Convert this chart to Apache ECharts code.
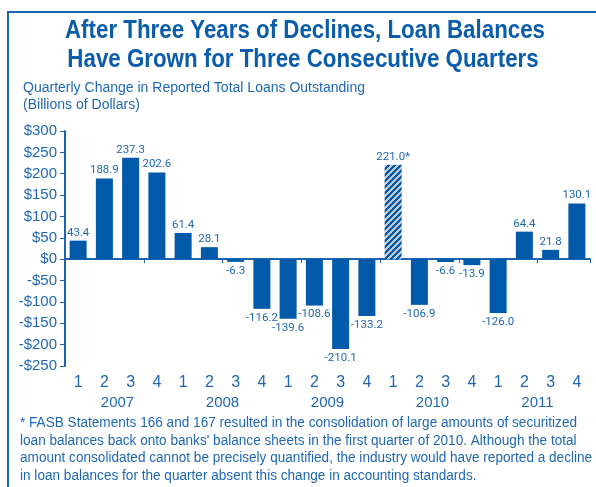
<!DOCTYPE html>
<html>
<head>
<meta charset="utf-8">
<script src="https://cdn.jsdelivr.net/npm/echarts@6/dist/echarts.min.js"></script>
<style>
html,body{margin:0;padding:0;background:#fff;}
#c{width:596px;height:487px;}
</style>
</head>
<body>
<div id="c"></div>
<script>
var quarters = ['2007Q1','2007Q2','2007Q3','2007Q4','2008Q1','2008Q2','2008Q3','2008Q4','2009Q1','2009Q2','2009Q3','2009Q4','2010Q1','2010Q2','2010Q3','2010Q4','2011Q1','2011Q2','2011Q3','2011Q4'];
var quarterLabels = ['1','2','3','4','1','2','3','4','1','2','3','4','1','2','3','4','1','2','3','4'];
var years = ['2007','2008','2009','2010','2011'];
var loanChange = [43.4, 188.9, 237.3, 202.6, 61.4, 28.1, -6.3, -116.2, -139.6, -108.6, -210.1, -133.2, 221.0, -106.9, -6.6, -13.9, -126.0, 64.4, 21.8, 130.1];
var hatchedIndex = 12; // 2010 Q1, FASB 166/167 consolidation
var yTicks = [-250, -200, -150, -100, -50, 0, 50, 100, 150, 200, 250, 300];

var FONT = "'Liberation Sans', Arial, sans-serif";
var LBLFONT = "Roboto, 'Liberation Sans', sans-serif";
var BAR = '#005aa9';
var TXT = '#1f67b2';

// hatch pattern
var pc = document.createElement('canvas');
pc.width = 6; pc.height = 6;
var pctx = pc.getContext('2d');
var img = pctx.createImageData(6, 6);
for (var y = 0; y < 6; y++) {
  for (var x = 0; x < 6; x++) {
    var i = (y * 6 + x) * 4;
    var dark = ((x + y) % 6) < 3;
    if (dark) { img.data[i] = 0x00; img.data[i+1] = 0x5a; img.data[i+2] = 0xa9; }
    else { img.data[i] = 0xbc; img.data[i+1] = 0xca; img.data[i+2] = 0xe2; }
    img.data[i+3] = 255;
  }
}
pctx.putImageData(img, 0, 0);

// measure helper for condensed text
var mc = document.createElement('canvas').getContext('2d');
function fitScale(text, font, target) {
  mc.font = font;
  return target / mc.measureText(text).width;
}

var chart = echarts.init(document.getElementById('c'));

var seriesData = loanChange.map(function (v, idx) {
  var d = {
    value: v,
    label: {
      position: v >= 0 ? 'top' : 'bottom',
      distance: v >= 0 ? 2 : 3,
      formatter: idx === hatchedIndex ? v.toFixed(1) + '*' : v.toFixed(1)
    }
  };
  if (idx === hatchedIndex) {
    d.itemStyle = { color: { image: pc, repeat: 'repeat' } };
  }
  return d;
});

var title1 = 'After Three Years of Declines, Loan Balances';
var title2 = 'Have Grown for Three Consecutive Quarters';
var sub1 = 'Quarterly Change in Reported Total Loans Outstanding';
var sub2 = '(Billions of Dollars)';
var footnote = [
  "* FASB Statements 166 and 167 resulted in the consolidation of large amounts of securitized",
  "loan balances back onto banks' balance sheets in the first quarter of 2010. Although the total",
  "amount consolidated cannot be precisely quantified, the industry would have reported a decline",
  "in loan balances for the quarter absent this change in accounting standards."
];
var footY = [423, 441, 458, 476];

var tFont = 'bold 25px ' + FONT;
var sFont = '14px ' + FONT;
var tScale = fitScale(title1, tFont, 480);
var sScale = fitScale(sub1, sFont, 342);
var fScale = fitScale(footnote[0], sFont, 557);

var graphics = [
  { type: 'line', shape: { x1: 8, y1: 12, x2: 596, y2: 12 }, style: { stroke: '#1a64b0', lineWidth: 2 } },
  { type: 'line', shape: { x1: 8, y1: 11, x2: 8, y2: 487 }, style: { stroke: '#1a64b0', lineWidth: 2 } },
  { type: 'text', x: 305, y: 31, scaleX: tScale, style: { text: title1, font: tFont, fill: '#0b5caa', textAlign: 'center', textVerticalAlign: 'middle' } },
  { type: 'text', x: 303, y: 60, scaleX: tScale, style: { text: title2, font: tFont, fill: '#0b5caa', textAlign: 'center', textVerticalAlign: 'middle' } },
  { type: 'text', x: 23, y: 88, scaleX: sScale, style: { text: sub1, font: sFont, fill: TXT, textAlign: 'left', textVerticalAlign: 'middle' } },
  { type: 'text', x: 23, y: 105, scaleX: sScale, style: { text: sub2, font: sFont, fill: TXT, textAlign: 'left', textVerticalAlign: 'middle' } }
];
footnote.forEach(function (t, k) {
  graphics.push({ type: 'text', x: 20, y: footY[k], scaleX: fScale, style: { text: t, font: sFont, fill: TXT, textAlign: 'left', textVerticalAlign: 'middle' } });
});

chart.setOption({
  animation: false,
  backgroundColor: '#fff',
  grid: { left: 65, right: 6, top: 131, bottom: 121, containLabel: false },
  xAxis: [
    {
      type: 'category', data: quarters, position: 'bottom',
      axisLine: { onZero: true, lineStyle: { color: '#1a64b0', width: 2 } },
      axisTick: { show: true, length: 4, inside: false, lineStyle: { color: '#1a64b0', width: 1 } },
      axisLabel: { show: false }
    },
    {
      type: 'category', data: quarterLabels, position: 'bottom', offset: 0,
      axisLine: { show: false }, axisTick: { show: false },
      axisLabel: { margin: 9, color: TXT, fontFamily: FONT, fontSize: 16, interval: 0 }
    },
    {
      type: 'category', data: years, position: 'bottom', offset: 20,
      axisLine: { show: false }, axisTick: { show: false },
      axisLabel: { margin: 9, color: TXT, fontFamily: FONT, fontSize: 15, interval: 0 }
    }
  ],
  yAxis: {
    type: 'value', min: yTicks[0], max: yTicks[yTicks.length - 1], interval: 50,
    axisLine: { show: true, lineStyle: { color: '#1a64b0', width: 2 } },
    axisTick: { show: true, length: 5, lineStyle: { color: '#1a64b0', width: 1 } },
    splitLine: { show: false },
    axisLabel: {
      margin: 8, color: TXT, fontFamily: FONT, fontSize: 15,
      formatter: function (v) { return v < 0 ? '-$' + Math.abs(v) : '$' + v; }
    }
  },
  series: [{
    type: 'bar', xAxisIndex: 0, data: seriesData, barWidth: 17,
    itemStyle: { color: BAR },
    label: { show: true, color: TXT, fontFamily: LBLFONT, fontSize: 11.5 }
  }],
  graphic: graphics
});
</script>
</body>
</html>
